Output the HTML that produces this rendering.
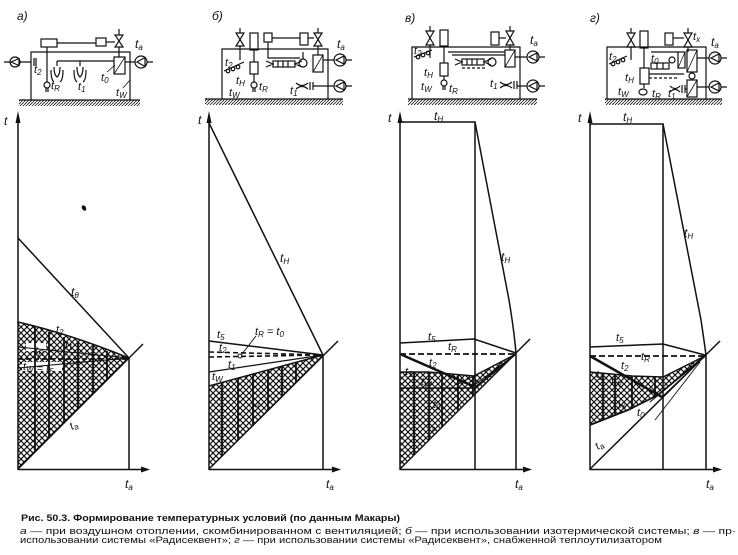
<!DOCTYPE html>
<html><head><meta charset="utf-8"><style>
html,body{margin:0;padding:0;background:#fff}
svg{display:block}
text{font-family:"Liberation Sans","DejaVu Sans",sans-serif;fill:#111}
.l{font-style:italic;font-size:12px}
.m{font-style:italic;font-size:11px}
.s{font-size:8px;font-style:italic}
</style></head><body>
<svg width="738" height="555" viewBox="0 0 738 555" xmlns="http://www.w3.org/2000/svg">
<defs>
<pattern id="xh" patternUnits="userSpaceOnUse" width="6" height="6"><path d="M0,6 L6,0 M0,0 L6,6" stroke="#111" stroke-width="1.15" fill="none"/></pattern>
<pattern id="gh" patternUnits="userSpaceOnUse" x="0" y="0" width="3" height="3"><path d="M0,3 L3,0" stroke="#111" stroke-width="0.8"/></pattern>
</defs>

<!-- ================= SCHEMATICS ================= -->
<text x="17" y="20" class="l">а)</text>
<text x="212" y="20" class="l">б)</text>
<text x="405" y="22" class="l">в)</text>
<text x="590" y="22" class="l">г)</text>

<!-- ground strips -->
<rect x="19" y="100" width="121" height="6" fill="url(#gh)"/>
<rect x="205" y="99" width="138" height="6" fill="url(#gh)"/>
<rect x="408" y="99" width="129" height="6" fill="url(#gh)"/>
<rect x="605" y="99" width="117" height="6" fill="url(#gh)"/>
<g stroke="#111" stroke-width="1.3">
<line x1="19" y1="100" x2="140" y2="100"/>
<line x1="205" y1="99" x2="343" y2="99"/>
<line x1="408" y1="99" x2="537" y2="99"/>
<line x1="605" y1="99" x2="722" y2="99"/>
</g>

<!-- schematic a -->
<g stroke="#111" fill="none" stroke-width="1.2">
<path d="M31,100 V52 H130 V100"/>
<rect x="41" y="39" width="16" height="8"/>
<path d="M57,43 H96"/>
<rect x="96" y="38" width="10" height="8"/>
<path d="M106,42 H115"/>
<path d="M115,35 H123 L115,47 H123 Z"/>
<path d="M119,29 V35 M119,47 V57"/>
<rect x="114" y="57" width="11" height="17"/>
<path d="M114,74 L125,57" stroke-width="0.8"/>
<path d="M57,61 H114"/>
<path d="M47,47 V82"/>
<circle cx="47" cy="85" r="3"/>
<path d="M46,88 V92 M48,88 V92"/>
<circle cx="15" cy="62" r="5"/>
<path d="M11,62 L19,58.5 L19,65.5 Z"/>
<path d="M4,62 H10 M20,62 H31 M34,58 V66 M36,58 V66"/>
<circle cx="141" cy="62" r="6"/>
<path d="M125,62 H135 M147,62 H153 M137,62 L145,57.5 L145,66.5 Z"/>
<path d="M57,61 V66 M54,67 Q54,75 57,77 Q60,75 60,67 M51,70 Q51,80 54,82 M63,70 Q63,80 60,82"/>
<path d="M80,61 V66 M77,67 Q77,75 80,77 Q83,75 83,67 M74,70 Q74,80 77,82 M86,70 Q86,80 83,82"/>
<path d="M107,72 L115,65 M123,88 L130,80" stroke-width="0.8"/>
</g>
<text x="135" y="48" class="l">t<tspan class="s" dy="2">a</tspan></text>
<text x="34" y="73" class="m">t<tspan class="s" dy="2">2</tspan></text>
<text x="51" y="89" class="m">t<tspan class="s" dy="2">R</tspan></text>
<text x="78" y="90" class="m">t<tspan class="s" dy="2">1</tspan></text>
<text x="101" y="81" class="m">t<tspan class="s" dy="2">0</tspan></text>
<text x="116" y="96" class="m">t<tspan class="s" dy="2">W</tspan></text>

<!-- schematic б -->
<g stroke="#111" fill="none" stroke-width="1.2">
<path d="M222,99 V49 H328 V99"/>
<path d="M236,33 H244 L236,46 H244 Z"/>
<path d="M240,28 V33 M240,46 V60"/>
<rect x="250" y="33" width="8" height="17"/>
<path d="M254,50 V62"/>
<rect x="250" y="62" width="8" height="12"/>
<path d="M254,74 V82"/>
<circle cx="254" cy="85" r="3"/>
<path d="M253,88 V92 M255,88 V92"/>
<rect x="264" y="33" width="8" height="9"/>
<path d="M268,42 V58 H300 M272,38 H300"/>
<rect x="300" y="33" width="8" height="12"/>
<path d="M308,38 H314"/>
<path d="M314,33 H322 L314,46 H322 Z"/>
<path d="M318,28 V33 M318,46 V55"/>
<rect x="313" y="55" width="10" height="17"/>
<path d="M313,72 L323,55" stroke-width="0.8"/>
<path d="M323,60 H334 M346,60 H352"/>
<circle cx="340" cy="60" r="6"/>
<path d="M336,60 L344,56 L344,64 Z"/>
<rect x="273" y="61" width="22" height="6"/>
<path d="M278,61 V67 M283,61 V67 M288,61 V67 M266,61 L273,64 L266,67 M302,61 L295,64 L302,67"/>
<circle cx="303" cy="63" r="4"/>
<path d="M303,59 V52"/>
<path d="M224,71 L244,62"/>
<circle cx="228" cy="71" r="1.8"/><circle cx="233" cy="69" r="1.8"/><circle cx="238" cy="67" r="1.8"/>
<path d="M296,83 Q302,88 308,83 M296,89 Q302,84 308,89 M310,82 V90 M313,82 V90 M313,86 H334 M346,86 H352"/>
<circle cx="340" cy="86" r="6"/>
<path d="M336,86 L344,82 L344,90 Z"/>
</g>
<text x="337" y="48" class="l">t<tspan class="s" dy="2">a</tspan></text>
<text x="225" y="66" class="m">t<tspan class="s" dy="2">2</tspan></text>
<text x="236" y="84" class="m">t<tspan class="s" dy="2">H</tspan></text>
<text x="229" y="96" class="m">t<tspan class="s" dy="2">W</tspan></text>
<text x="259" y="90" class="m">t<tspan class="s" dy="2">R</tspan></text>
<text x="290" y="94" class="m">t<tspan class="s" dy="2">1</tspan></text>

<!-- schematic в -->
<g stroke="#111" fill="none" stroke-width="1.2">
<path d="M412,99 V47 H520 V99"/>
<path d="M426,31 H434 L426,45 H434 Z"/>
<path d="M430,26 V31 M430,45 V58"/>
<rect x="440" y="30" width="8" height="16"/>
<path d="M444,46 V63"/>
<rect x="440" y="63" width="8" height="13"/>
<path d="M444,76 V80"/>
<circle cx="444" cy="83" r="3"/>
<path d="M443,86 V90 M445,86 V90"/>
<path d="M448,52 H505 M452,55 H505"/>
<rect x="491" y="32" width="8" height="13"/>
<path d="M499,38 H506"/>
<path d="M506,31 H514 L506,45 H514 Z"/>
<path d="M510,26 V31 M510,45 V50"/>
<rect x="505" y="50" width="10" height="17"/>
<path d="M505,67 L515,50" stroke-width="0.8"/>
<path d="M515,57 H527 M539,57 H545"/>
<circle cx="533" cy="57" r="6"/>
<path d="M529,57 L537,53 L537,61 Z"/>
<rect x="462" y="59" width="22" height="6"/>
<path d="M467,59 V65 M472,59 V65 M477,59 V65 M455,59 L462,62 L455,65 M491,59 L484,62 L491,65"/>
<circle cx="492" cy="62" r="4"/>
<path d="M462,68 H486" stroke-dasharray="3,2"/>
<path d="M414,57 L432,50"/>
<circle cx="418" cy="57" r="1.8"/><circle cx="423" cy="55" r="1.8"/><circle cx="428" cy="53" r="1.8"/>
<path d="M500,82 Q506,87 512,82 M500,88 Q506,83 512,88 M514,81 V89 M517,81 V89 M517,86 H527 M539,86 H545"/>
<circle cx="533" cy="86" r="6"/>
<path d="M529,86 L537,82 L537,90 Z"/>
</g>
<text x="530" y="44" class="l">t<tspan class="s" dy="2">a</tspan></text>
<text x="414" y="54" class="m">t<tspan class="s" dy="2">2</tspan></text>
<text x="424" y="76" class="m">t<tspan class="s" dy="2">H</tspan></text>
<text x="421" y="90" class="m">t<tspan class="s" dy="2">W</tspan></text>
<text x="449" y="92" class="m">t<tspan class="s" dy="2">R</tspan></text>
<text x="490" y="87" class="m">t<tspan class="s" dy="2">1</tspan></text>

<!-- schematic г -->
<g stroke="#111" fill="none" stroke-width="1.2">
<path d="M607,99 V47 H706 V99"/>
<path d="M627,33 H635 L627,47 H635 Z"/>
<path d="M631,28 V33 M631,47 V60"/>
<rect x="640" y="31" width="8" height="17"/>
<path d="M644,48 V68"/>
<rect x="640" y="68" width="9" height="16"/>
<path d="M644,84 V88"/>
<ellipse cx="643" cy="92" rx="4" ry="3"/>
<path d="M649,78 H678" stroke-dasharray="3,2"/>
<path d="M649,74 H684"/>
<rect x="665" y="33" width="8" height="12"/>
<path d="M673,38 H684"/>
<path d="M684,33 H692 L684,47 H692 Z"/>
<path d="M688,28 V33 M688,47 V52"/>
<rect x="678" y="52" width="7" height="16"/>
<path d="M678,68 L685,52" stroke-width="0.8"/>
<rect x="687" y="50" width="10" height="22"/>
<path d="M687,72 L697,50" stroke-width="0.8"/>
<rect x="687" y="80" width="10" height="17"/>
<path d="M687,97 L697,80" stroke-width="0.8"/>
<circle cx="692" cy="76" r="3"/>
<path d="M651,52 H678"/>
<rect x="651" y="63" width="18" height="6"/>
<path d="M657,63 V69 M663,63 V69"/>
<circle cx="672" cy="60" r="3"/>
<path d="M697,58 H709 M721,58 H727 M697,87 H709 M721,87 H727"/>
<circle cx="715" cy="58" r="6"/>
<path d="M711,58 L719,54 L719,62 Z"/>
<circle cx="715" cy="87" r="6"/>
<path d="M711,87 L719,83 L719,91 Z"/>
<path d="M609,64 L627,56"/>
<circle cx="613" cy="64" r="1.8"/><circle cx="618" cy="62" r="1.8"/><circle cx="623" cy="60" r="1.8"/>
<path d="M670,86 Q675,91 680,86 M670,92 Q675,87 680,92 M682,85 V93 M685,85 V93 M685,89 H687"/>
</g>
<text x="711" y="46" class="l">t<tspan class="s" dy="2">a</tspan></text>
<text x="693" y="40" class="m">t<tspan class="s" dy="2">x</tspan></text>
<text x="609" y="60" class="m">t<tspan class="s" dy="2">2</tspan></text>
<text x="625" y="81" class="m">t<tspan class="s" dy="2">H</tspan></text>
<text x="618" y="95" class="m">t<tspan class="s" dy="2">W</tspan></text>
<text x="652" y="97" class="m">t<tspan class="s" dy="2">R</tspan></text>
<text x="668" y="97" class="m">t<tspan class="s" dy="2">1</tspan></text>
<text x="651" y="62" class="m">t<tspan class="s" dy="2">0</tspan></text>

<!-- ================= CHARTS ================= -->
<path d="M18,322 Q70,334 129,358 L18,469 Z" fill="url(#xh)"/>
<path d="M209,386 L323,355 L209,469 Z" fill="url(#xh)"/>
<path d="M400,372 L428,372 L474,376 L516,354 L400,469 Z" fill="url(#xh)"/>
<path d="M590,372 L632,376 L663,377 L705,356 L658,395 L628,410 L590,425 Z" fill="url(#xh)"/>

<rect x="26" y="343" width="20" height="8" fill="#fff"/>
<rect x="22" y="362" width="40" height="9" fill="#fff"/>
<rect x="211" y="372" width="15" height="9" fill="#fff"/>

<g stroke="#111" fill="none" stroke-width="1.5">
<!-- chart a -->
<line x1="18" y1="470" x2="18" y2="118"/>
<line x1="18" y1="469.5" x2="143" y2="469.5"/>
<line x1="129" y1="358" x2="129" y2="469"/>
<line x1="18" y1="469" x2="143" y2="344"/>
<line x1="18" y1="238" x2="129" y2="358"/>
<path d="M18,322 Q70,334 129,358"/>
<path d="M18,347 L129,358" stroke-width="1.1"/>
<path d="M18,368 L129,358" stroke-width="1.1"/>
<path d="M18,359 H129" stroke-dasharray="5,3" stroke-width="1.7"/>
<g stroke-width="1.8">
<path d="M35,327 V452 M49,332 V438 M64,337 V423 M78,341 V409 M93,346 V394 M107,351 V380"/>
</g>
<!-- chart б -->
<line x1="209" y1="470" x2="209" y2="118"/>
<line x1="209" y1="469.5" x2="333" y2="469.5"/>
<line x1="323" y1="355" x2="323" y2="469"/>
<line x1="209" y1="469" x2="338" y2="341"/>
<line x1="209" y1="123" x2="323" y2="355"/>
<line x1="209" y1="341" x2="323" y2="355"/>
<path d="M209,352 L323,355 M209,357 L323,355" stroke-dasharray="5,3" stroke-width="1.6"/>
<path d="M209,372 L323,355" stroke-width="1.2"/>
<path d="M209,386 L323,355"/>
<circle cx="240" cy="356" r="2" stroke-width="1"/>
<path d="M242,354 L256,336" stroke-width="0.9"/>
<g stroke-width="1.8">
<path d="M222,382 V456 M238,378 V440 M253,374 V425 M268,370 V410 M282,366 V396 M296,362 V382"/>
</g>
<!-- chart в -->
<line x1="400" y1="470" x2="400" y2="118"/>
<line x1="400" y1="469.5" x2="524" y2="469.5"/>
<path d="M400,122 H475 V469"/>
<path d="M475,122 L509,300 Q514,330 516,353 V469"/>
<line x1="400" y1="469" x2="530" y2="339"/>
<path d="M400,343 L474,339 L516,353"/>
<path d="M400,354 H516" stroke-dasharray="6,3" stroke-width="1.7"/>
<path d="M400,354 L473,386" stroke-width="2.5"/>
<path d="M400,372 L428,372 L474,376 L516,354"/>
<path d="M400,388 H474 L516,354"/>
<path d="M473,386 L516,354 M470,393 L516,354" stroke-width="1.1"/>
<path d="M458,384 L474,376" stroke-width="1.1"/>
<g stroke-width="1.8">
<path d="M414,372 V455 M429,372 V440 M442,373 V427 M458,374 V411 M473,376 V396"/>
</g>
<!-- chart г -->
<line x1="590" y1="470" x2="590" y2="118"/>
<line x1="590" y1="469.5" x2="714" y2="469.5"/>
<path d="M590,124 H663 V469"/>
<path d="M663,124 L701,320 Q704,340 706,355 V469"/>
<line x1="590" y1="469" x2="720" y2="341"/>
<path d="M590,347 L663,344 L705,355"/>
<path d="M590,356 H705" stroke-dasharray="6,3" stroke-width="1.7"/>
<path d="M590,356 L662,397" stroke-width="2.5"/>
<path d="M590,372 L632,376 L663,377 L705,356"/>
<path d="M590,425 L628,410 L658,395 L705,356" stroke-width="1.8"/>
<path d="M662,397 L705,356 M650,402 L705,356" stroke-width="1.1"/>
<path d="M655,420 L700,362" stroke-width="0.9"/>
<g stroke-width="1.8">
<path d="M603,373 V420 M615,374 V415 M632,376 V409 M655,377 V396"/>
</g>
</g>

<!-- arrowheads -->
<g fill="#111">
<polygon points="15.5,123 18,111 20.5,123"/>
<polygon points="141,466.5 150,469.5 141,472.5"/>
<polygon points="206.5,123 209,111 211.5,123"/>
<polygon points="332,466.5 341,469.5 332,472.5"/>
<polygon points="397.5,123 400,111 402.5,123"/>
<polygon points="523,466.5 532,469.5 523,472.5"/>
<polygon points="587.5,123 590,111 592.5,123"/>
<polygon points="713,466.5 722,469.5 713,472.5"/>
<ellipse cx="84" cy="208" rx="2" ry="3" transform="rotate(-30 84 208)"/>
</g>

<!-- axis labels -->
<text x="4" y="125" class="l">t</text>
<text x="198" y="124" class="l">t</text>
<text x="388" y="122" class="l">t</text>
<text x="578" y="122" class="l">t</text>
<text x="125" y="488" class="l">t<tspan class="s" dy="2">a</tspan></text>
<text x="326" y="488" class="l">t<tspan class="s" dy="2">a</tspan></text>
<text x="515" y="488" class="l">t<tspan class="s" dy="2">a</tspan></text>
<text x="706" y="488" class="l">t<tspan class="s" dy="2">a</tspan></text>

<!-- chart a labels -->
<text x="71" y="296" class="l">t<tspan class="s" dy="2">θ</tspan></text>
<text x="56" y="333" class="m">t<tspan class="s" dy="2">2</tspan></text>
<text x="65" y="348" class="m">t<tspan class="s" dy="2">1</tspan></text>
<text x="35" y="354" class="m">t<tspan class="s" dy="2">R</tspan></text>
<text x="23" y="370" class="m">t<tspan class="s" dy="2">W</tspan> = t<tspan class="s" dy="2">5</tspan></text>
<text x="72" y="430" class="m" transform="rotate(-30 72 430)">t<tspan class="s" dy="2">a</tspan></text>

<!-- chart б labels -->
<text x="280" y="262" class="l">t<tspan class="s" dy="2">H</tspan></text>
<text x="217" y="338" class="m">t<tspan class="s" dy="2">5</tspan></text>
<text x="255" y="335" class="m">t<tspan class="s" dy="2">R</tspan><tspan dy="-2"> = t</tspan><tspan class="s" dy="2">0</tspan></text>
<text x="219" y="351" class="m">t<tspan class="s" dy="2">2</tspan></text>
<text x="228" y="368" class="m">t<tspan class="s" dy="2">1</tspan></text>
<text x="212" y="380" class="m">t<tspan class="s" dy="2">W</tspan></text>
<text x="255" y="408" class="m" transform="rotate(-45 255 408)">t<tspan class="s" dy="2">a</tspan></text>

<!-- chart в labels -->
<text x="434" y="120" class="l">t<tspan class="s" dy="2">H</tspan></text>
<text x="501" y="261" class="l">t<tspan class="s" dy="2">H</tspan></text>
<text x="428" y="340" class="m">t<tspan class="s" dy="2">5</tspan></text>
<text x="448" y="350" class="m">t<tspan class="s" dy="2">R</tspan></text>
<text x="429" y="366" class="m">t<tspan class="s" dy="2">2</tspan></text>
<text x="405" y="375" class="m">t<tspan class="s" dy="2">1</tspan></text>
<text x="421" y="385" class="m">t<tspan class="s" dy="2">W</tspan></text>
<text x="433" y="408" class="m">t<tspan class="s" dy="2">0</tspan></text>
<text x="429" y="431" class="m" transform="rotate(-20 429 431)">t<tspan class="s" dy="2">a</tspan></text>

<!-- chart г labels -->
<text x="623" y="121" class="l">t<tspan class="s" dy="2">H</tspan></text>
<text x="684" y="237" class="l">t<tspan class="s" dy="2">H</tspan></text>
<text x="616" y="341" class="m">t<tspan class="s" dy="2">5</tspan></text>
<text x="641" y="360" class="m">t<tspan class="s" dy="2">R</tspan></text>
<text x="621" y="369" class="m">t<tspan class="s" dy="2">2</tspan></text>
<text x="596" y="378" class="m">t<tspan class="s" dy="2">1</tspan></text>
<text x="611" y="385" class="m">t<tspan class="s" dy="2">W</tspan></text>
<text x="619" y="408" class="m" transform="rotate(-20 619 408)">t<tspan class="s" dy="2">x</tspan></text>
<text x="637" y="416" class="m">t<tspan class="s" dy="2">0</tspan></text>
<text x="598" y="450" class="m" transform="rotate(-35 598 450)">t<tspan class="s" dy="2">a</tspan></text>

<!-- caption -->
<text x="21" y="521" font-size="9.5" font-weight="bold" textLength="379" lengthAdjust="spacingAndGlyphs">Рис. 50.3. Формирование температурных условий (по данным Макары)</text>
<text x="20" y="534" font-size="9" textLength="716" lengthAdjust="spacingAndGlyphs"><tspan font-style="italic">а</tspan> — при  воздушном  отоплении,  скомбинированном  с  вентиляцией;  <tspan font-style="italic">б</tspan> — при  использовании  изотермической  системы;  <tspan font-style="italic">в</tspan> — пр·</text>
<text x="20" y="543" font-size="9" textLength="642" lengthAdjust="spacingAndGlyphs">использовании системы «Радисеквент»; <tspan font-style="italic">г</tspan> — при использовании системы «Радисеквент», снабженной теплоутилизатором</text>
</svg>
</body></html>
